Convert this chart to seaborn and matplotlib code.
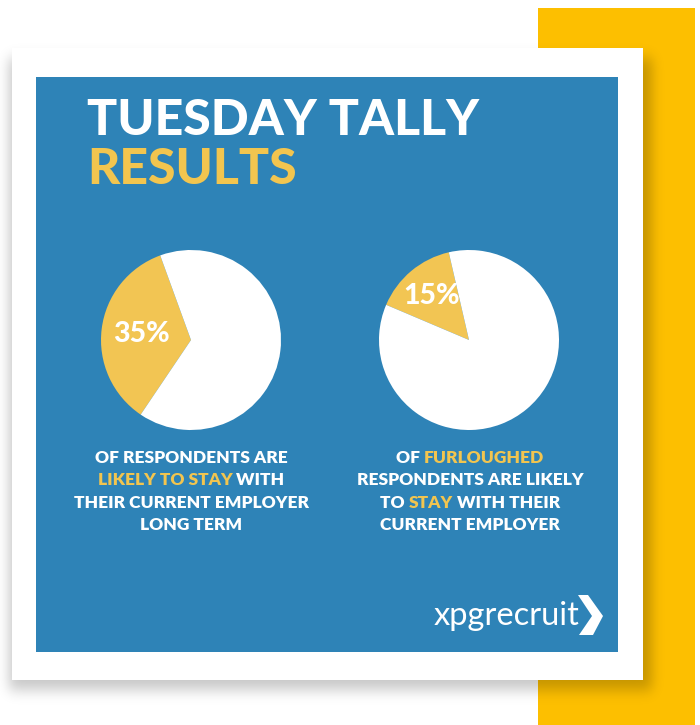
import math
import numpy as np
import matplotlib
matplotlib.use("Agg")
import matplotlib.pyplot as plt
import seaborn as sns
from matplotlib.patches import Rectangle, Polygon

sns.set_theme(style="white")
plt.rcParams['font.family'] = ['Lato', 'DejaVu Sans']

# ---------------- data ----------------
shares = [35, 15]                      # % likely to stay (yellow wedge)
start_angles = [110, 103]
title_white = "TUESDAY TALLY"
title_yellow = "RESULTS"
captions = [
    [[("OF RESPONDENTS ARE", "w")],
     [("LIKELY TO STAY", "y"), (" WITH", "w")],
     [("THEIR CURRENT EMPLOYER", "w")],
     [("LONG TERM", "w")]],
    [[("OF ", "w"), ("FURLOUGHED", "y")],
     [("RESPONDENTS ARE LIKELY", "w")],
     [("TO ", "w"), ("STAY", "y"), (" WITH THEIR", "w")],
     [("CURRENT EMPLOYER", "w")]],
]
brand = "xpgrecruit"

# ---------------- style ----------------
BLUE = "#2E83B7"
WEDGE = "#F2C553"
TITLE_Y = "#F2C54F"
BAR_Y = "#FDBF00"
COL = {"w": "white", "y": TITLE_Y}
palette = sns.color_palette([WEDGE, "white"])

W, H = 700, 725
fig = plt.figure(figsize=(W / 100, H / 100), dpi=100)
fig.patch.set_facecolor("white")
bg = fig.add_axes([0, 0, 1, 1])
bg.set_xlim(0, W)
bg.set_ylim(H, 0)
bg.axis("off")

# yellow decorative block
bg.add_patch(Rectangle((538, 8), 157, 717, color=BAR_Y, zorder=1, lw=0))

# soft shadow
def soft(v, a, b, s):
    e = np.vectorize(math.erf)
    return 0.5 * (e((v - a) / (s * math.sqrt(2))) - e((v - b) / (s * math.sqrt(2))))

xs = np.arange(W) + 0.5
ys = np.arange(H) + 0.5
alpha = 0.22 * np.outer(soft(ys, 58, 690, 7), soft(xs, 9, 652, 6))
img = np.zeros((H, W, 4))
img[..., 3] = alpha
bg.imshow(img, extent=(0, W, H, 0), zorder=2, interpolation="bilinear", aspect="auto")
bg.set_xlim(0, W)
bg.set_ylim(H, 0)

# white card and blue panel
bg.add_patch(Rectangle((12, 48), 631, 632, color="white", zorder=3, lw=0))
bg.add_patch(Rectangle((36, 77), 582, 575, color=BLUE, zorder=4, lw=0))

renderer = fig.canvas.get_renderer()

def draw_line(segs, x, y, size, weight, align="center"):
    texts = [bg.text(0, y, s, color=COL[c], fontsize=size, fontweight=weight,
                     va="baseline", ha="left", zorder=6) for s, c in segs]
    widths = [t.get_window_extent(renderer).width for t in texts]
    start = x - sum(widths) / 2 if align == "center" else x
    for t, w in zip(texts, widths):
        t.set_x(start)
        start += w

# title
draw_line([(title_white, "w")], 87, 135, 36, "black", align="left")
draw_line([(title_yellow, "y")], 87, 184, 36, "black", align="left")

# captions
centers = [191, 470]
baselines = [463, 485, 508, 530]
for cx, cap in zip(centers, captions):
    for yb, segs in zip(baselines, cap):
        draw_line(segs, cx, yb, 12.5, "heavy")

# pies
pie_centers = [(191, 340), (469, 340)]
R = 90
pct_dist = [0.55, 0.64]
for (cx, cy), s, sa, pd in zip(pie_centers, shares, start_angles, pct_dist):
    ax = fig.add_axes([(cx - R) / W, 1 - (cy + R) / H, 2 * R / W, 2 * R / H])
    wedges, _, autotexts = ax.pie(
        [s, 100 - s], colors=palette, startangle=sa, counterclock=True,
        autopct=lambda p: f"{p:.0f}%" if p < 50 else "", pctdistance=pd,
        wedgeprops=dict(linewidth=0),
        textprops=dict(color="white", fontsize=20.5, fontweight="black"))
    ax.set_xlim(-1, 1)
    ax.set_ylim(-1, 1)
    ax.set_aspect("equal")
    ax.axis("off")

# brand
bg.text(434, 625, brand, color="white", fontsize=23.5, fontweight="normal",
        va="baseline", ha="left", zorder=6)
bg.add_patch(Polygon([(578, 595), (588, 595), (603, 616), (593, 635), (579, 635), (592, 616)],
                     closed=True, color="white", zorder=6, lw=0))

fig.savefig("out.png", dpi=100, facecolor="white")
